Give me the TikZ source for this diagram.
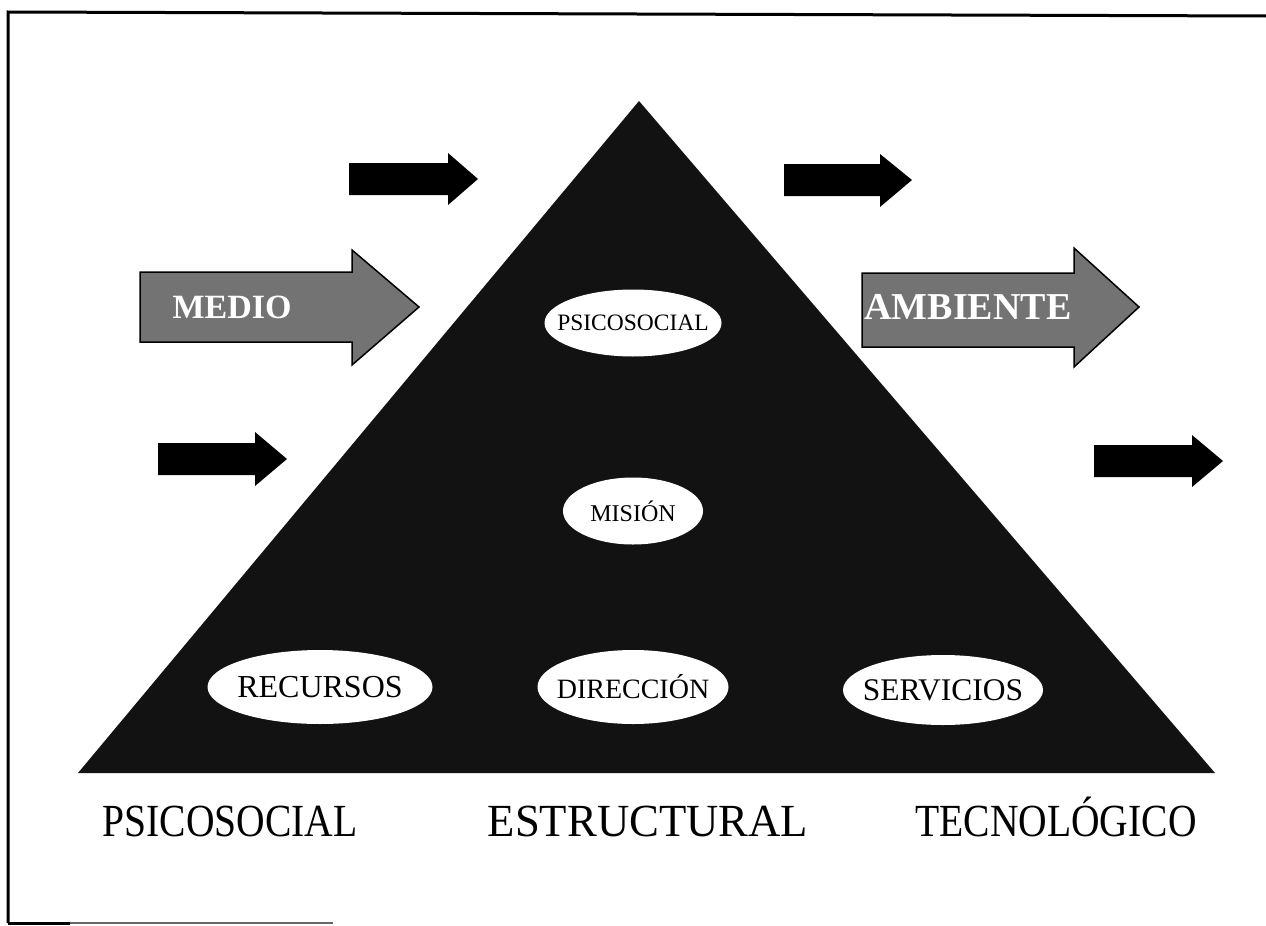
\documentclass[tikz,border=0pt]{standalone}
\usepackage{fontspec}
\setmainfont{Liberation Serif}
\usetikzlibrary{shapes.geometric}
\tikzset{
  oval/.style={ellipse, fill=white, inner sep=0pt},
  ovaltext/.style={inner sep=0pt},
  blackarrow/.style={fill=black},
  grayarrow/.style={fill=black!55, draw=black, line width=1.5pt},
  arrowtext/.style={text=white, font=\bfseries\fontsize{34}{36}\selectfont},
  baselabel/.style={anchor=base, font=\fontsize{46}{48}\selectfont, xscale=0.86},
  frame/.style={line width=3pt, black}
}
\begin{document}
\begin{tikzpicture}[x=1pt, y=-1pt]
\useasboundingbox (0,0) rectangle (1266,926);
% frame
\draw[frame] (8,923) -- (8,12) -- (1266,16);
\draw[line width=3pt] (8,923) -- (70,923);
\draw[line width=1.2pt, black!60] (70,923) -- (333,923);
% pyramid
\coordinate (apex) at (639,101);
\coordinate (bl) at (78,773);
\coordinate (br) at (1215,773);
\fill[black!93] (apex) -- (bl) -- (br) -- cycle;
% ovals
\node[oval, minimum width=177, minimum height=67] (psi) at (633,323) {};
\node[ovaltext, font=\fontsize{23.5}{25}\selectfont] (psit) at (psi) {PSICOSOCIAL};
\node[oval, minimum width=140, minimum height=67] (mis) at (633,511) {};
\node[ovaltext, font=\fontsize{24}{26}\selectfont] (mist) at (mis) {MISIÓN};
\node[oval, minimum width=225, minimum height=74] (rec) at (320,687) {};
\node[ovaltext, font=\fontsize{32}{34}\selectfont] (rect) at (rec) {RECURSOS};
\node[oval, minimum width=191, minimum height=74] (dir) at (633,687) {};
\node[ovaltext, font=\fontsize{28}{30}\selectfont] (dirt) at (dir) {DIRECCIÓN};
\node[oval, minimum width=200, minimum height=70] (ser) at (943,690) {};
\node[ovaltext, font=\fontsize{31.5}{33}\selectfont] (sert) at (ser) {SERVICIOS};
% small black arrows
\fill[blackarrow] (349,163) -- (448,163) -- (448,153) -- (478,179) -- (448,205) -- (448,195) -- (349,195) -- cycle;
\fill[blackarrow] (784,164) -- (880,164) -- (880,154) -- (912,180) -- (880,207) -- (880,196) -- (784,196) -- cycle;
\fill[blackarrow] (158,443) -- (255,443) -- (255,432) -- (287,459) -- (255,486) -- (255,475) -- (158,475) -- cycle;
\fill[blackarrow] (1094,445) -- (1192,445) -- (1192,435) -- (1223,461) -- (1192,487) -- (1192,477) -- (1094,477) -- cycle;
% gray arrows
\filldraw[grayarrow] (140,272) -- (352,272) -- (352,250) -- (419,307) -- (352,365) -- (352,342) -- (140,342) -- cycle;
\node[arrowtext] (medio) at (232,307) {MEDIO};
\filldraw[grayarrow] (862,273) -- (1074,273) -- (1074,248) -- (1139,307) -- (1074,367) -- (1074,347) -- (862,347) -- cycle;
\node[arrowtext, font=\bfseries\fontsize{38}{40}\selectfont] (amb) at (968,307) {AMBIENTE};
% base labels
\node[baselabel] (l1) at (230,836) {PSICOSOCIAL};
\node[baselabel, xscale=1.13] (l2) at (648,836) {ESTRUCTURAL};
\node[baselabel] (l3) at (1056,836) {TECNOLÓGICO};
\end{tikzpicture}
\end{document}
